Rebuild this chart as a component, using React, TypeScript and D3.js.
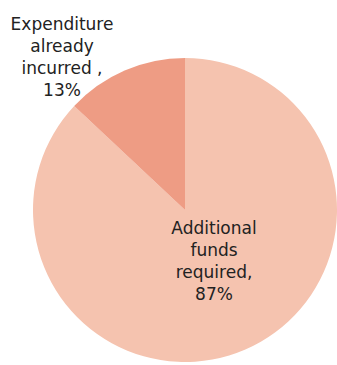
import React from "react";
import * as d3 from "d3";

const categories = ["Additional funds required", "Expenditure already incurred"];
const values = [87, 13];
const labelLines = [
  ["Additional", "funds", "required,", "87%"],
  ["Expenditure", "already", "incurred ,", "13%"],
];
const colors = ["#F5C3AF", "#EE9C84"];

const W = 337;
const H = 365;
const cx = 185;
const cy = 210;
const R = 152;
// label anchor offsets relative to pie center (layout only)
const labelPos = [
  { x: 29, y: 24 },
  { x: -123, y: -180 },
];
const lineH = 22;

export default function App() {
  const data = categories.map((c, i) => ({ name: c, value: values[i] }));
  const pie = d3.pie<any>().sort(null).value((d: any) => d.value);
  const arcs = pie(data);
  const arc = d3.arc<any>().innerRadius(0).outerRadius(R);
  return (
    <svg
      width={W}
      height={H}
      style={{ position: "absolute", left: 0, top: 0 }}
      fontFamily="'DejaVu Sans', sans-serif"
    >
      <rect width={W} height={H} fill="#fff" />
      <g transform={`translate(${cx},${cy})`}>
        {arcs.map((a, i) => (
          <path key={i} d={arc(a) || ""} fill={colors[i]} />
        ))}
        {labelLines.map((lines, i) => (
          <text
            key={i}
            textAnchor="middle"
            fontSize={17}
            fill="#222"
          >
            {lines.map((l, j) => (
              <tspan key={j} x={labelPos[i].x} y={labelPos[i].y + j * lineH}>
                {l}
              </tspan>
            ))}
          </text>
        ))}
      </g>
    </svg>
  );
}
